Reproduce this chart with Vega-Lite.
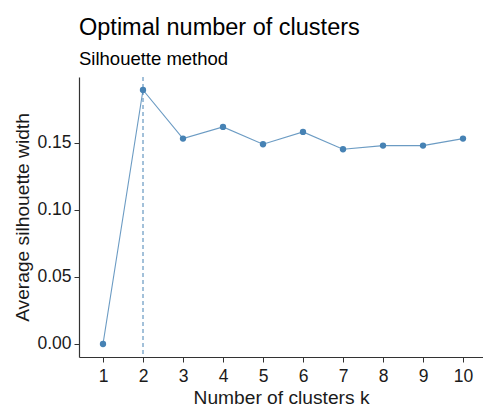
{
  "$schema": "https://vega.github.io/schema/vega-lite/v6.json",
  "width": 404,
  "height": 280,
  "autosize": {"type": "none"},
  "padding": {"left": 79, "top": 77, "right": 0, "bottom": 51},
  "background": "white",
  "config": {
    "view": {"stroke": null},
    "font": "Liberation Sans",
    "axis": {"grid": false, "domainColor": "#333333", "tickColor": "#333333", "labelColor": "#1a1a1a", "titleColor": "#1a1a1a", "labelFont": "Liberation Sans", "titleFont": "Liberation Sans", "titleFontWeight": "normal", "labelFontSize": 17.5, "titleFontSize": 19.2, "tickSize": 5, "domainWidth": 1.2}
  },
  "title": {
    "text": "Optimal number of clusters",
    "subtitle": "Silhouette method",
    "anchor": "start",
    "frame": "group",
    "fontSize": 23.5,
    "fontWeight": "normal",
    "subtitleFontSize": 18.5,
    "color": "#000000",
    "subtitleColor": "#000000",
    "font": "Liberation Sans",
    "subtitleFont": "Liberation Sans",
    "subtitlePadding": 10,
    "offset": 8.5
  },
  "data": {"values": [
    {"k": 1, "y": 0.0},
    {"k": 2, "y": 0.1892},
    {"k": 3, "y": 0.153},
    {"k": 4, "y": 0.1617},
    {"k": 5, "y": 0.1488},
    {"k": 6, "y": 0.158},
    {"k": 7, "y": 0.1451},
    {"k": 8, "y": 0.1478},
    {"k": 9, "y": 0.1478},
    {"k": 10, "y": 0.153}
  ]},
  "layer": [
    {
      "data": {"values": [{"k": 2}]},
      "mark": {"type": "rule", "color": "steelblue", "strokeDash": [4, 3], "strokeWidth": 1},
      "encoding": {"x": {"field": "k", "type": "quantitative"}}
    },
    {
      "mark": {"type": "line", "color": "#4682B4", "strokeWidth": 1.1, "opacity": 0.8},
      "encoding": {
        "x": {"field": "k", "type": "quantitative", "scale": {"domain": [0.4, 10.5], "nice": false, "zero": false}, "axis": {"values": [1,2,3,4,5,6,7,8,9,10], "title": "Number of clusters k", "labelPadding": 5, "titlePadding": 4}},
        "y": {"field": "y", "type": "quantitative", "scale": {"domain": [-0.0097, 0.1989], "nice": false, "zero": false}, "axis": {"values": [0, 0.05, 0.1, 0.15], "format": ".2f", "title": "Average silhouette width", "labelPadding": 3, "titlePadding": 4}}
      }
    },
    {
      "mark": {"type": "point", "filled": true, "color": "#4682B4", "size": 40, "opacity": 1},
      "encoding": {
        "x": {"field": "k", "type": "quantitative"},
        "y": {"field": "y", "type": "quantitative"}
      }
    }
  ]
}
